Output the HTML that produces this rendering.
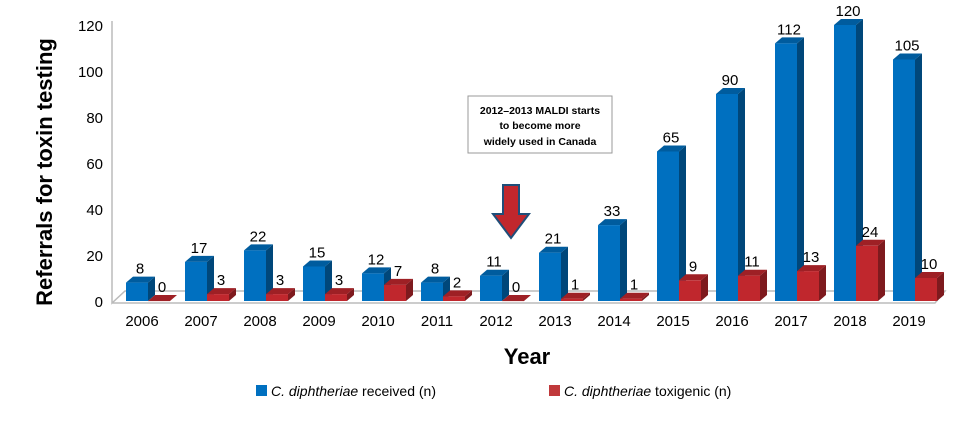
<!DOCTYPE html>
<html><head><meta charset="utf-8"><style>
body{margin:0;background:#fff;font-family:"Liberation Sans",sans-serif;}
svg text{font-family:"Liberation Sans",sans-serif;}
</style></head><body>
<svg width="980" height="417">
<g id="axis"></g>
<g id="bars"></g>
<text transform="translate(52,172) rotate(-90)" text-anchor="middle" font-size="22" font-weight="bold">Referrals for toxin testing</text>
<text x="527" y="364" text-anchor="middle" font-size="22" font-weight="bold">Year</text>
<g>
<rect x="468" y="96" width="144" height="57" fill="#fff" stroke="#999"/>
<text x="540" y="114" text-anchor="middle" font-size="10.5" font-weight="bold">2012–2013 MALDI starts</text>
<text x="540" y="129" text-anchor="middle" font-size="10.5" font-weight="bold">to become more</text>
<text x="540" y="145" text-anchor="middle" font-size="10.5" font-weight="bold">widely used in Canada</text>
</g>
<path d="M503,185 H519 V214 H529 L511,238 L493,214 H503 Z" fill="#c1272d" stroke="#1f4e79" stroke-width="2"/>
<g font-size="14">
<g><rect x="256" y="385" width="11" height="11" fill="#0070c0"/><text x="271" y="396"><tspan font-style="italic">C. diphtheriae</tspan> received (n)</text></g>
<g><rect x="549" y="385" width="11" height="11" fill="#c0393b"/><text x="564" y="396"><tspan font-style="italic">C. diphtheriae</tspan> toxigenic (n)</text></g>
</g>
</svg>
<script>
const years=["2006","2007","2008","2009","2010","2011","2012","2013","2014","2015","2016","2017","2018","2019"];
const received=[8,17,22,15,12,8,11,21,33,65,90,112,120,105];
const toxigenic=[0,3,3,3,7,2,0,1,1,9,11,13,24,10];
const yTicks=[0,20,40,60,80,100,120];
const NS="http://www.w3.org/2000/svg";
const base=301,scale=2.3,x0=126,step=59,bw=22,dx=7,dy=6;
const yS=v=>base-v*scale, xS=i=>x0+i*step;
function mk(t,a,p){const e=document.createElementNS(NS,t);for(const k in a)e.setAttribute(k,a[k]);p.appendChild(e);return e;}
const ax=document.getElementById('axis'),bars=document.getElementById('bars');
const wall=mk('path',{d:`M112,${yS(120)-4} V303 L125,291 H945 L935,303 H112`,fill:'none',stroke:'#bbb','stroke-width':1.5},ax);


yTicks.forEach(v=>{const t=mk('text',{x:103,y:yS(v)+6,'text-anchor':'end','font-size':15},ax);t.textContent=v;

});
function bar3d(x,v,front,side,top,name){
const g=mk('g',{},bars);


const y=yS(v),h=base-y;
mk('path',{d:`M${x+bw},${base} L${x+bw+dx},${base-dy} V${y-dy} L${x+bw},${y} Z`,fill:side},g);
mk('path',{d:`M${x},${y} L${x+dx},${y-dy} H${x+bw+dx} L${x+bw},${y} Z`,fill:top},g);
mk('rect',{x:x,y:y,width:bw,height:Math.max(h,0.1),fill:front},g);
const t=mk('text',{x:x+bw/2+3,y:y-dy-3,'text-anchor':'middle','font-size':15},g);t.textContent=v;}
years.forEach((yr,i)=>{
bar3d(xS(i),received[i],'#0070c0','#00477a','#005c9e','bar-received-'+yr);
bar3d(xS(i)+bw,toxigenic[i],'#c0272d','#7e1a1e','#9e2025','bar-toxigenic-'+yr);
const t=mk('text',{x:xS(i)+16,y:326,'text-anchor':'middle','font-size':15},ax);t.textContent=yr;

});
</script>
</body></html>
